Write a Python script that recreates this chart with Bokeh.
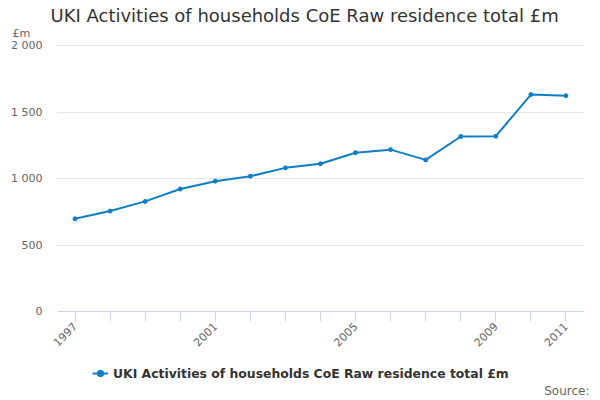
import math
from bokeh.plotting import figure
from bokeh.layouts import column
from bokeh.models import Range1d, FixedTicker, Legend, LegendItem, Title
from bokeh.embed import file_html
from bokeh.resources import INLINE

years = [1997, 1998, 1999, 2000, 2001, 2002, 2003, 2004, 2005, 2006, 2007, 2008, 2009, 2010, 2011]
values = [697, 755, 828, 921, 980, 1017, 1080, 1111, 1194, 1217, 1140, 1316, 1318, 1631, 1622]
labelled_years = [1997, 2001, 2005, 2009, 2011]
y_ticks = [0, 500, 1000, 1500, 2000]
y_tick_labels = ["0", "500", "1 000", "1 500", "2 000"]
series_name = "UKI Activities of households CoE Raw residence total £m"
title_text = "UKI Activities of households CoE Raw residence total £m"
unit_text = "£m"
source_text = "Source:"

FONT = "DejaVu Sans"
BLUE = "#0e7ec5"

px_per_unit = (311 - 45) / 2000.0
p = figure(width=600, height=360, output_backend="svg", toolbar_location=None,
           x_range=Range1d(1996.5, 2011.5),
           y_range=Range1d(0, 2000 + 2 / px_per_unit),
           min_border_left=57, min_border_right=17, min_border_top=43, min_border_bottom=49)
p.title = None
p.outline_line_color = None
p.background_fill_color = "white"
p.border_fill_color = "white"

r_line = p.line(years, values, line_color=BLUE, line_width=2)
r_pts = p.scatter(years, values, size=4, marker="circle", fill_color=BLUE, line_color=BLUE)

ya = p.yaxis[0]
ya.ticker = FixedTicker(ticks=y_ticks)
ya.major_label_overrides = {t: s for t, s in zip(y_ticks, y_tick_labels)}
ya.axis_line_color = None
ya.major_tick_line_color = None
ya.minor_tick_line_color = None
ya.major_tick_out = 0
ya.major_tick_in = 0
ya.major_label_standoff = 15
ya.major_label_text_font = FONT
ya.major_label_text_font_size = "11px"
ya.major_label_text_color = "#666666"

p.ygrid.ticker = FixedTicker(ticks=y_ticks)
p.ygrid.grid_line_color = "#e6e6e6"
p.xgrid.grid_line_color = None

xa = p.xaxis[0]
xa.ticker = FixedTicker(ticks=years)
xa.major_label_overrides = {y: (str(y) if y in labelled_years else "") for y in years}
xa.axis_line_color = "#ccd6eb"
xa.major_tick_line_color = "#ccd6eb"
xa.minor_tick_line_color = None
xa.major_tick_out = 10
xa.major_tick_in = 0
xa.major_label_standoff = 3
xa.major_label_orientation = math.pi / 4
xa.major_label_text_font = FONT
xa.major_label_text_font_size = "11px"
xa.major_label_text_color = "#666666"

# above: unit (nearest the frame) then main title
p.add_layout(Title(text=unit_text, align="left", offset=-45, standoff=6.7,
                   text_font=FONT, text_font_size="11px", text_font_style="normal",
                   text_color="#666666"), "above")
p.add_layout(Title(text=title_text, align="left", offset=-7, standoff=-8.75,
                   text_font=FONT, text_font_size="18px", text_font_style="normal",
                   text_color="#333333"), "above")

# bottom strip: legend and source
bot = figure(width=600, height=40, output_backend="svg", toolbar_location=None,
             x_range=Range1d(0, 526), y_range=Range1d(0, 23),
             x_axis_type=None, y_axis_type=None,
             min_border_left=57, min_border_right=17, min_border_top=0, min_border_bottom=17)
bot.title = None
bot.outline_line_color = None
bot.xgrid.grid_line_color = None
bot.ygrid.grid_line_color = None
bot.background_fill_color = "white"
bot.border_fill_color = "white"
# same series drawn outside this strip's view: only its legend glyph shows
b_line = bot.line(years, values, line_color=BLUE, line_width=2)
b_pts = bot.scatter(years, values, size=4, marker="circle", fill_color=BLUE, line_color=BLUE)
legend = Legend(items=[LegendItem(label=series_name, renderers=[b_line, b_pts])],
                location=(35, 0), orientation="horizontal",
                padding=0, margin=0, spacing=0, label_standoff=5,
                glyph_width=16, glyph_height=20,
                border_line_color=None, background_fill_alpha=0,
                label_text_font=FONT, label_text_font_size="12.4px",
                label_text_font_style="bold", label_text_color="#333333")
bot.add_layout(legend)
bot.add_layout(Title(text=source_text, align="right", offset=-6, standoff=0,
                     vertical_align="top",
                     text_font=FONT, text_font_size="12px", text_font_style="normal",
                     text_color="#666666"), "below")

layout = column(p, bot, spacing=0)
open("out.html", "w").write(file_html(layout, INLINE))
